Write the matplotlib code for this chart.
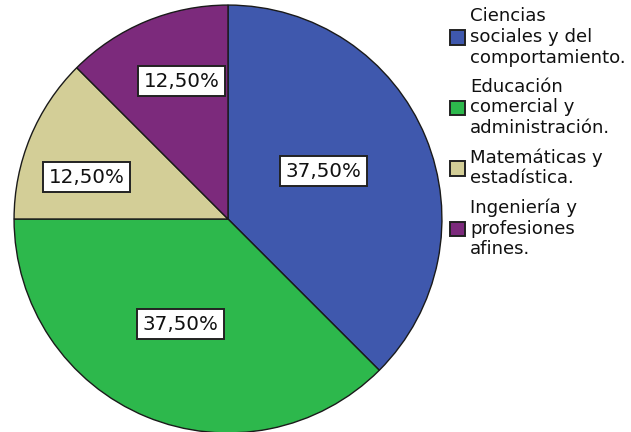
import numpy as np
import matplotlib.pyplot as plt
from matplotlib.patches import Patch

# data
categories = ["Ciencias\nsociales y del\ncomportamiento.",
              "Educación\ncomercial y\nadministración.",
              "Matemáticas y\nestadística.",
              "Ingeniería y\nprofesiones\nafines."]
values = [37.5, 37.5, 12.5, 12.5]
colors = ["#3f58ad", "#2db84c", "#d3ce97", "#7c2a7c"]

# label placement (style only)
label_r = [0.50, 0.54, 0.69, 0.68]
label_dang = [4, -2, 6, -4]


def main():
    plt.rcParams['font.family'] = ['DejaVu Sans']
    fig = plt.figure(figsize=(6.31, 4.32), dpi=100)
    ax = fig.add_axes([13 / 631, -2 / 432, 430 / 631, 430 / 432])

    wedges, _ = ax.pie(values, colors=colors, startangle=90, counterclock=False,
                       radius=1.0, wedgeprops=dict(edgecolor="#1a1a1a", linewidth=1.0))
    ax.set_xlim(-1.005, 1.005)
    ax.set_ylim(-1.005, 1.005)
    ax.set_aspect("equal")

    total = sum(values)
    for w, v, r, da in zip(wedges, values, label_r, label_dang):
        ang = np.deg2rad((w.theta1 + w.theta2) / 2 + da)
        txt = ("%.2f%%" % (100 * v / total)).replace(".", ",")
        ax.text(r * np.cos(ang), r * np.sin(ang), txt, ha="center", va="center",
                fontsize=14.3, color="#111111",
                bbox=dict(boxstyle="square,pad=0.28", facecolor="white",
                          edgecolor="#222222", linewidth=1.4))

    handles = [Patch(facecolor=c, edgecolor="#222222", linewidth=1.4) for c in colors]
    leg = fig.legend(handles, categories, loc="upper left",
                     bbox_to_anchor=(450 / 631, 1 - 7 / 432), frameon=False,
                     fontsize=13.1, handlelength=0.85, handleheight=0.85,
                     handletextpad=0.25, borderpad=0, borderaxespad=0,
                     labelspacing=0.6)
    for t in leg.get_texts():
        t.set_linespacing(1.2)
        t.set_color("#111111")

    fig.savefig("out.png", dpi=100)


if __name__ == "__main__":
    main()
